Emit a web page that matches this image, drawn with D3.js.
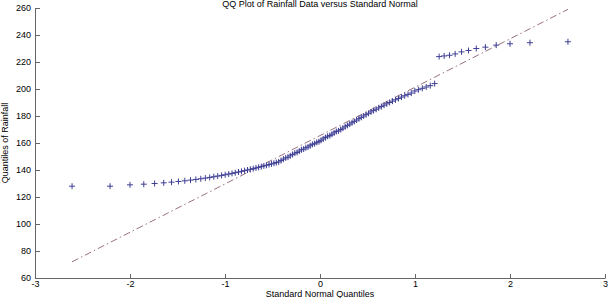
<!DOCTYPE html>
<html>
<head>
<meta charset="utf-8">
<script src="https://cdn.jsdelivr.net/npm/d3@7"></script>
<style>
  body { margin: 0; background: #fff; }
  text { font-family: "Liberation Sans", Arial, sans-serif; fill: #000; }
</style>
</head>
<body>
<div id="my_dataviz"></div>
<script>

// theoretical normal quantiles (x) and sorted rainfall (y)
var qqX = [-2.61,-2.21,-2.00,-1.855,-1.741,-1.645,-1.563,-1.490,-1.423,-1.363,
  -1.307,-1.255,-1.207,-1.161,-1.118,-1.077,-1.036,-0.998,-0.961,-0.926,
  -0.892,-0.858,-0.826,-0.794,-0.763,-0.733,-0.703,-0.674,-0.646,-0.618,
  -0.591,-0.564,-0.537,-0.511,-0.485,-0.460,-0.435,-0.410,-0.385,-0.361,
  -0.337,-0.313,-0.289,-0.265,-0.241,-0.218,-0.195,-0.172,-0.149,-0.126,
  -0.103,-0.080,-0.057,-0.034,-0.011,0.011,0.034,0.057,0.080,0.103,
  0.126,0.149,0.172,0.195,0.218,0.241,0.265,0.289,0.313,0.337,
  0.361,0.385,0.410,0.435,0.460,0.485,0.511,0.537,0.564,0.591,
  0.618,0.646,0.674,0.703,0.733,0.763,0.794,0.826,0.858,0.892,
  0.926,0.961,0.998,1.036,1.077,1.118,1.161,1.207,1.254,1.307,
  1.363,1.423,1.490,1.563,1.645,1.741,1.855,2.00,2.21,2.61];

var qqY = [128,128,129,129.5,130,130.5,131,131.5,132,132.5,
  133,133.5,134,134.5,135,135.5,136,136.5,137,137.5,
  138,138.5,139,139.5,140,140.5,141,141.5,142,142.5,
  143,143.5,144,144.5,145,145.5,146,147,148,149,
  149.5,150.5,151.5,152.5,153,154,155,155.5,156.5,157,
  158,159,159.5,160.5,161,162,163,164,165,165.5,
  166.5,167.5,168.5,169,170,171,172,173,174,175,
  176,177,178,179,180,181,182,183,184,185,
  186,187,188,189,190,191,192,193,194,195,
  196,197,198.5,199.5,200.5,201.5,202.5,204,224,224.5,
  225,226,227.5,228.5,230,231,232.5,233.5,234.3,235];

// reference line end points (dash-dot)
var refX = [-2.61, 2.61];
var refY = [72, 259];

var xTicks = [-3, -2, -1, 0, 1, 2, 3];
var yTicks = [60, 80, 100, 120, 140, 160, 180, 200, 220, 240, 260];

var margin = {top: 8, right: 4, bottom: 20, left: 35},
    width = 609 - margin.left - margin.right,
    height = 298 - margin.top - margin.bottom;

var svg = d3.select("#my_dataviz")
  .append("svg")
    .attr("width", 609)
    .attr("height", 298)
  .append("g")
    .attr("transform", "translate(" + margin.left + "," + margin.top + ")");

var x = d3.scaleLinear().domain([-3, 3]).range([0, width]);
var y = d3.scaleLinear().domain([60, 260]).range([height, 0]);

// plain hyphen minus, no decimals (matlab style)
var fmt = function(d) { return String(d) };

// axes, ticks point inwards like matlab
var xAxis = svg.append("g")
  .attr("transform", "translate(0," + height + ")")
  .call(d3.axisBottom(x).tickValues(xTicks).tickFormat(fmt)
    .tickSizeInner(-4).tickSizeOuter(0).tickPadding(3));

var yAxis = svg.append("g")
  .call(d3.axisLeft(y).tickValues(yTicks).tickFormat(fmt)
    .tickSizeInner(-5).tickSizeOuter(0).tickPadding(4));

[xAxis, yAxis].forEach(function(a) {
  a.select(".domain").attr("stroke", "#666");
  a.selectAll(".tick line").attr("stroke", "#666");
  a.selectAll(".tick text")
    .style("font-size", "9px")
    .style("font-family", "'Liberation Sans', Arial, sans-serif");
});

// reference line
svg.append("path")
  .datum(d3.zip(refX, refY))
  .attr("d", d3.line()
    .x(function(d) { return x(d[0]) })
    .y(function(d) { return y(d[1]) }))
  .attr("stroke", "#9a7080")
  .attr("stroke-width", 1)
  .attr("stroke-dasharray", "7,3,1.5,3")
  .attr("fill", "none");

// '+' markers
svg.append("g")
  .selectAll("path")
  .data(d3.zip(qqX, qqY))
  .enter()
  .append("path")
    .attr("transform", function(d) { return "translate(" + x(d[0]) + "," + y(d[1]) + ")" })
    .attr("d", "M-3,0H3M0,-3V3")
    .attr("stroke", "#3f3f95")
    .attr("stroke-width", 1)
    .attr("fill", "none");

// title and axis labels
svg.append("text")
  .attr("x", width / 2)
  .attr("y", -1)
  .attr("text-anchor", "middle")
  .style("font-size", "9px")
  .text("QQ Plot of Rainfall Data versus Standard Normal");

svg.append("text")
  .attr("x", width / 2)
  .attr("y", height + 19)
  .attr("text-anchor", "middle")
  .style("font-size", "9px")
  .text("Standard Normal Quantiles");

svg.append("text")
  .attr("transform", "translate(" + (-27) + "," + (height / 2) + ") rotate(-90)")
  .attr("text-anchor", "middle")
  .style("font-size", "9px")
  .text("Quantiles of Rainfall");

</script>
</body>
</html>
